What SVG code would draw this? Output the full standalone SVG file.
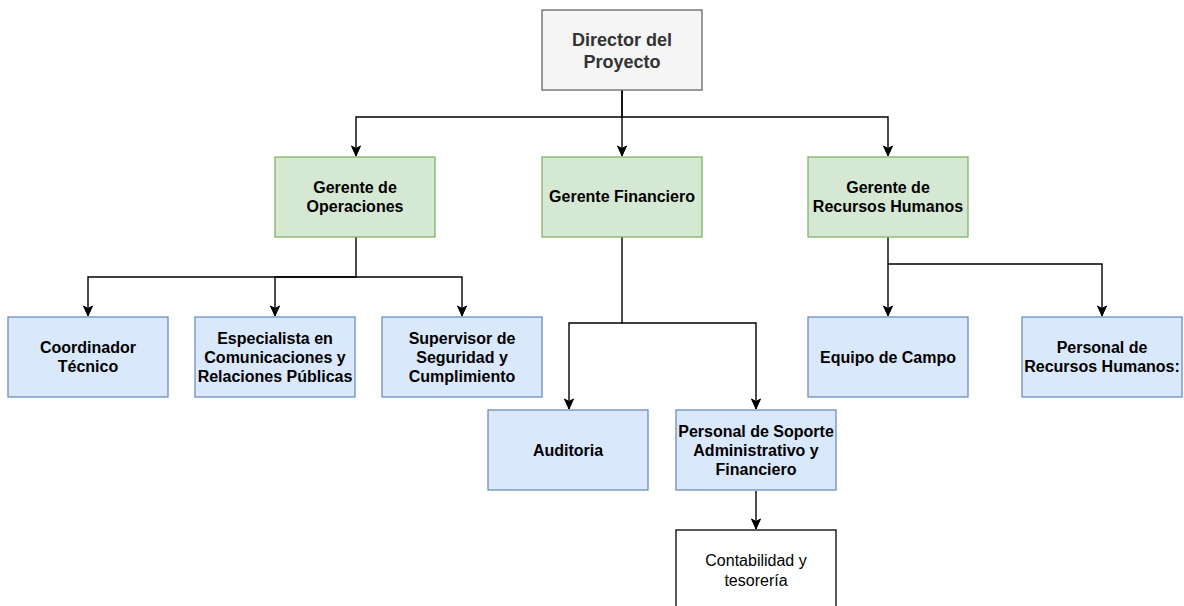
<svg xmlns="http://www.w3.org/2000/svg" width="1184" height="606" viewBox="0 0 1184 606">
<style>
.dir{fill:#f5f5f5;stroke:#666666;stroke-width:1.3}
.grn{fill:#d5e8d4;stroke:#82b366;stroke-width:1.3}
.blu{fill:#dae8fc;stroke:#6c8ebf;stroke-width:1.3}
.wht{fill:#ffffff;stroke:#000000;stroke-width:1.3}
text{font-family:"Liberation Sans",Arial,Helvetica,sans-serif;font-size:16px;text-anchor:middle;fill:#000000}
.b{font-weight:bold}
.dt{font-size:18px;font-weight:bold;fill:#333333}
.edge{fill:none;stroke:#000000;stroke-width:1.4}
</style>
<defs>
<marker id="arr" markerUnits="userSpaceOnUse" markerWidth="12" markerHeight="12" viewBox="0 0 12 12" refX="11" refY="6" orient="auto">
<path d="M1,1.5 L11,6 L1,10.5 L3.5,6 Z" fill="#000000" stroke="#000000" stroke-width="1"/>
</marker>
</defs>
<rect width="1184" height="606" fill="#ffffff"/>
<g id="connectors">
<path class="edge" d="M622,90 V117 H356 V156" marker-end="url(#arr)"/>
<path class="edge" d="M622,90 V156" marker-end="url(#arr)"/>
<path class="edge" d="M622,117 H888 V156" marker-end="url(#arr)"/>
<path class="edge" d="M356,237 V277 H88 V316" marker-end="url(#arr)"/>
<path class="edge" d="M356,277 H275 V316" marker-end="url(#arr)"/>
<path class="edge" d="M356,277 H462 V316" marker-end="url(#arr)"/>
<path class="edge" d="M622,237 V323 H569 V409" marker-end="url(#arr)"/>
<path class="edge" d="M622,323 H756 V409" marker-end="url(#arr)"/>
<path class="edge" d="M888,237 V316" marker-end="url(#arr)"/>
<path class="edge" d="M888,264 H1102 V316" marker-end="url(#arr)"/>
<path class="edge" d="M756,491 V529" marker-end="url(#arr)"/>
</g>
<g id="director">
<rect class="dir" x="542" y="10" width="160" height="80"/>
<text class="dt" x="622" y="46">Director del</text>
<text class="dt" x="622" y="68">Proyecto</text>
</g>
<g id="gerente-operaciones">
<rect class="grn" x="275" y="157" width="160" height="80"/>
<text class="b" x="355" y="193">Gerente de</text>
<text class="b" x="355" y="212">Operaciones</text>
</g>
<g id="gerente-financiero">
<rect class="grn" x="542" y="157" width="160" height="80"/>
<text class="b" x="622" y="202">Gerente Financiero</text>
</g>
<g id="gerente-rrhh">
<rect class="grn" x="808" y="157" width="160" height="80"/>
<text class="b" x="888" y="193">Gerente de</text>
<text class="b" x="888" y="212">Recursos Humanos</text>
</g>
<g id="coordinador">
<rect class="blu" x="8" y="317" width="160" height="80"/>
<text class="b" x="88" y="353">Coordinador</text>
<text class="b" x="88" y="372">Técnico</text>
</g>
<g id="especialista">
<rect class="blu" x="195" y="317" width="160" height="80"/>
<text class="b" x="275" y="344">Especialista en</text>
<text class="b" x="275" y="363">Comunicaciones y</text>
<text class="b" x="275" y="382">Relaciones Públicas</text>
</g>
<g id="supervisor">
<rect class="blu" x="382" y="317" width="160" height="80"/>
<text class="b" x="462" y="344">Supervisor de</text>
<text class="b" x="462" y="363">Seguridad y</text>
<text class="b" x="462" y="382">Cumplimiento</text>
</g>
<g id="auditoria">
<rect class="blu" x="488" y="410" width="160" height="80"/>
<text class="b" x="568" y="456">Auditoria</text>
</g>
<g id="soporte">
<rect class="blu" x="676" y="410" width="160" height="80"/>
<text class="b" x="756" y="437">Personal de Soporte</text>
<text class="b" x="756" y="456">Administrativo y</text>
<text class="b" x="756" y="475">Financiero</text>
</g>
<g id="contabilidad">
<rect class="wht" x="676" y="530" width="160" height="80"/>
<text x="756" y="566">Contabilidad y</text>
<text x="756" y="586">tesorería</text>
</g>
<g id="equipo-campo">
<rect class="blu" x="808" y="317" width="160" height="80"/>
<text class="b" x="888" y="363">Equipo de Campo</text>
</g>
<g id="personal-rrhh">
<rect class="blu" x="1022" y="317" width="160" height="80"/>
<text class="b" x="1102" y="353">Personal de</text>
<text class="b" x="1102" y="372">Recursos Humanos:</text>
</g>
</svg>
